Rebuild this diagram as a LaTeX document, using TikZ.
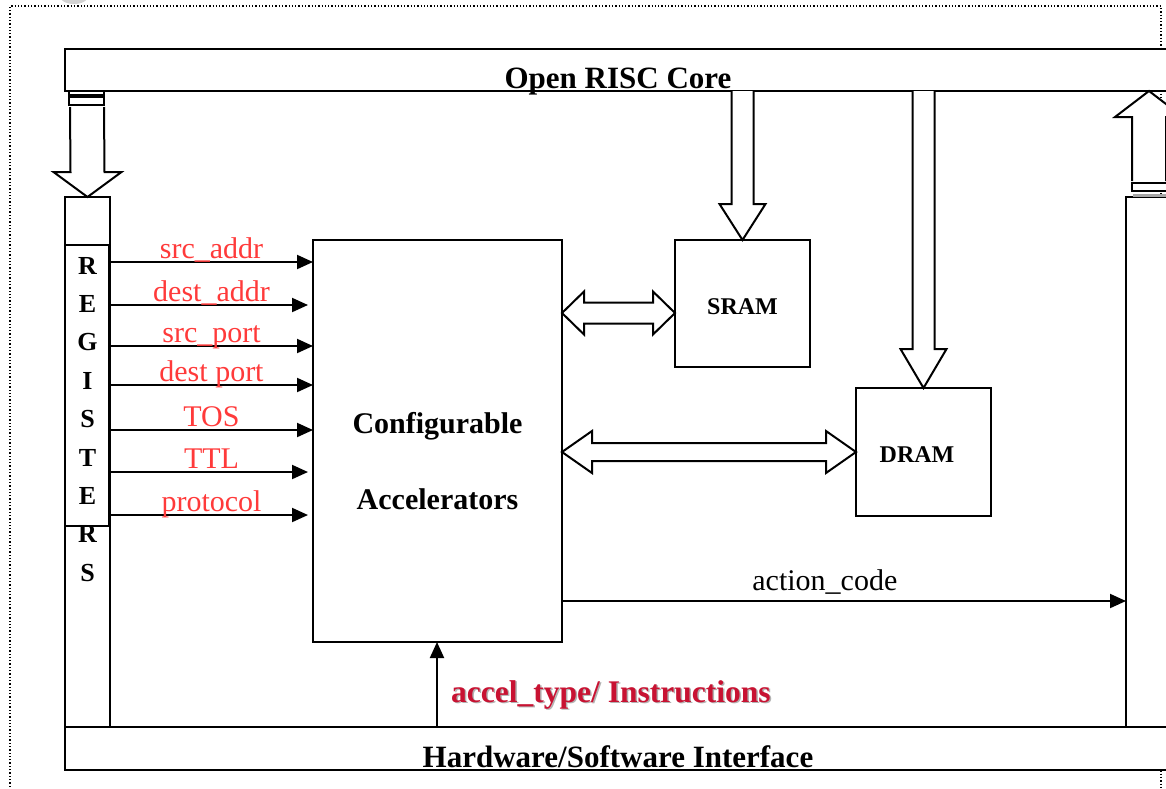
\documentclass[tikz,border=0pt]{standalone}
\usepackage{fontspec}
\setmainfont{Liberation Serif}
\usetikzlibrary{calc,arrows.meta}
\definecolor{sigred}{RGB}{255,58,58}
\definecolor{instred}{RGB}{200,18,50}

\tikzset{
  box/.style={draw, line width=2pt, fill=white, inner sep=0pt, outer sep=0pt, anchor=north west},
  frame/.style={draw, line width=2pt, inner sep=0pt, outer sep=0pt, anchor=north west},
  blk/.style={draw, line width=2pt, fill=white, line join=miter},
  strip/.style={draw, line width=1.5pt, fill=white},
  sig/.style={line width=2pt, -{Triangle[length=16pt,width=14pt]}},
  siglab/.style={text=sigred, font=\fontsize{30}{30}\selectfont, anchor=base, inner sep=0pt, yshift=4pt},
  bigtxt/.style={font=\bfseries\fontsize{30}{30}\selectfont, anchor=base, inner sep=0pt},
  memtxt/.style={font=\bfseries\fontsize{24}{24}\selectfont, anchor=base, inner sep=0pt},
  reglet/.style={font=\bfseries\fontsize{26}{26}\selectfont, anchor=base, inner sep=0pt},
}

% vertical block arrow: #1 flat end, #2 tip, #3 shaft half width, #4 head half width, #5 signed offset tip -> head base
\newcommand\vblockarrow[5]{%
  \draw[blk] ($(#1)+(-#3,0)$) -- ($(#2)+(-#3,#5)$) -- ($(#2)+(-#4,#5)$) -- (#2)
    -- ($(#2)+(#4,#5)$) -- ($(#2)+(#3,#5)$) -- ($(#1)+(#3,0)$);}
% horizontal double block arrow: #1 left tip, #2 right tip, #3 shaft half, #4 head half, #5 head length
\newcommand\hdoublearrow[5]{%
  \draw[blk] (#1) -- ($(#1)+(#5,-#4)$) -- ($(#1)+(#5,-#3)$) -- ($(#2)+(-#5,-#3)$)
    -- ($(#2)+(-#5,-#4)$) -- (#2) -- ($(#2)+(-#5,#4)$) -- ($(#2)+(-#5,#3)$)
    -- ($(#1)+(#5,#3)$) -- ($(#1)+(#5,#4)$) -- cycle;}

\begin{document}
\begin{tikzpicture}[x=1pt, y=-1pt]
  \useasboundingbox (0,0) rectangle (1166,788);

  % page frame and mark
  \fill[gray!35] (74,-5) ellipse [x radius=15, y radius=9];
  \draw[dotted, line width=1.3pt] (10,800) -- (10,6) -- (1161,6) -- (1161,800);

  % main bars
  \node[box, minimum width=1120pt, minimum height=42pt] (core) at (65,49) {};
  \node[box, minimum width=1120pt, minimum height=43pt] (hw) at (65,727) {};

  % register column
  \node[box, minimum width=45pt, minimum height=530pt] (regcol) at (65,197) {};
  \node[frame, minimum width=44pt, minimum height=281pt] (regs) at (65,245) {};
  \foreach \l [count=\i from 0] in {R,E,G,I,S,T,E,R,S}
    \node[reglet] (reg\i) at (87.5,{274+38.4*\i}) {\l};

  % right column
  \node[box, minimum width=60pt, minimum height=530pt] (rcol) at (1126,197) {};

  % accelerator and memories
  \node[box, minimum width=249pt, minimum height=402pt] (acc) at (313,240) {};
  \node[bigtxt] (acc1) at (437.5,433) {Configurable};
  \node[bigtxt] (acc2) at (437.5,509) {Accelerators};
  \node[box, minimum width=135pt, minimum height=127pt] (sram) at (675,240) {};
  \node[memtxt] (sramt) at (742.5,314) {SRAM};
  \node[box, minimum width=135pt, minimum height=128pt] (dram) at (856,388) {};
  \node[memtxt] (dramt) at (917,462) {DRAM};

  % bar texts
  \node[bigtxt, font=\bfseries\fontsize{31}{31}\selectfont] (coret) at (618,88) {Open RISC Core};
  \node[bigtxt, font=\bfseries\fontsize{31}{31}\selectfont] (hwt) at (618,767) {Hardware/Software Interface};

  % core -> register column
  \draw[strip] (69,91) rectangle (104,95);
  \draw[strip] (69,97) rectangle (104,105);
  \coordinate (lstart) at (87,107);
  \vblockarrow{lstart}{regcol.north}{17}{34}{-25}

  % right column -> core
  \draw[strip] (1132,183) rectangle (1180,191);
  \fill[gray!70] (1133,193.5) rectangle (1180,197);
  \coordinate (rstart) at (1149,181);
  \vblockarrow{rstart}{core.south -| rstart}{17}{34}{26}

  % core -> memories
  \vblockarrow{core.south -| sram.north}{sram.north}{11}{23}{-36}
  \vblockarrow{core.south -| dram.north}{dram.north}{11}{23}{-39}

  % accelerator <-> memories
  \hdoublearrow{acc.east |- 0,313}{sram.west |- 0,313}{10.5}{21.5}{22}
  \hdoublearrow{acc.east |- 0,452}{dram.west |- 0,452}{9}{21}{30}

  % register fields
  \draw[sig] (regcol.east |- 0,262) -- (acc.west |- 0,262) node[siglab, midway] {src\_addr};
  \draw[sig, shorten >=5pt] (regcol.east |- 0,305) -- (acc.west |- 0,305) node[siglab, midway] {dest\_addr};
  \draw[sig] (regcol.east |- 0,346) -- (acc.west |- 0,346) node[siglab, midway] {src\_port};
  \draw[sig] (regcol.east |- 0,385) -- (acc.west |- 0,385) node[siglab, midway] {dest port};
  \draw[sig] (regcol.east |- 0,430) -- (acc.west |- 0,430) node[siglab, midway] {TOS};
  \draw[sig, shorten >=5pt] (regcol.east |- 0,472) -- (acc.west |- 0,472) node[siglab, midway] {TTL};
  \draw[sig, shorten >=5pt] (regcol.east |- 0,515) -- (acc.west |- 0,515) node[siglab, midway] {protocol};

  % outputs and instructions
  \draw[sig] (acc.east |- 0,601) -- (rcol.west |- 0,601)
    node[pos=0.466, anchor=base, inner sep=0pt, yshift=11pt, font=\fontsize{30}{30}\selectfont] {action\_code};
  \draw[sig] (hw.north -| 437,0) -- (acc.south -| 437,0);
  \node[anchor=base west, inner sep=0pt, text=black!30, font=\bfseries\fontsize{31.5}{31.5}\selectfont] (instsh) at (452.5,703.5) {accel\_type/ Instructions};
  \node[anchor=base west, inner sep=0pt, text=instred, font=\bfseries\fontsize{31.5}{31.5}\selectfont] (inst) at (451,702) {accel\_type/ Instructions};
\end{tikzpicture}
\end{document}
